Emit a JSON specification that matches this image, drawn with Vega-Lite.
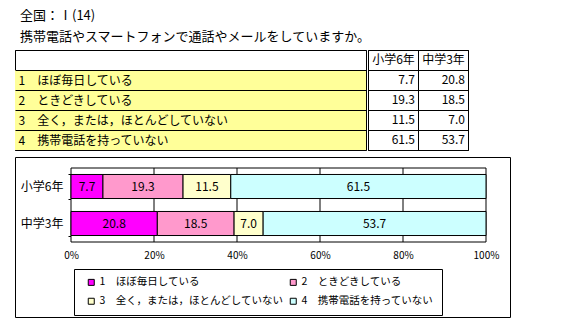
{
  "$schema": "https://vega.github.io/schema/vega-lite/v6.json",
  "padding": {"left": 14, "top": 9, "right": 0, "bottom": 0},
  "background": "white",
  "title": {
    "text": "全国：Ⅰ(14)",
    "subtitle": "携帯電話やスマートフォンで通話やメールをしていますか。",
    "anchor": "start",
    "frame": "group",
    "dx": 5,
    "fontSize": 13,
    "fontWeight": "normal",
    "subtitleFontSize": 13,
    "subtitlePadding": 8,
    "offset": 0,
    "color": "black",
    "subtitleColor": "black"
  },
  "datasets": {
    "survey": [
      {"item": "1　ほぼ毎日している", "grade": "小学6年", "value": 7.7},
      {"item": "2　ときどきしている", "grade": "小学6年", "value": 19.3},
      {"item": "3　全く，または，ほとんどしていない", "grade": "小学6年", "value": 11.5},
      {"item": "4　携帯電話を持っていない", "grade": "小学6年", "value": 61.5},
      {"item": "1　ほぼ毎日している", "grade": "中学3年", "value": 20.8},
      {"item": "2　ときどきしている", "grade": "中学3年", "value": 18.5},
      {"item": "3　全く，または，ほとんどしていない", "grade": "中学3年", "value": 7.0},
      {"item": "4　携帯電話を持っていない", "grade": "中学3年", "value": 53.7}
    ],
    "gridlines": [{"p": 20}, {"p": 40}, {"p": 60}, {"p": 80}]
  },
  "spacing": -1,
  "vconcat": [
    {
      "spacing": 0,
      "hconcat": [
        {
          "width": 351,
          "height": 100,
          "data": {"name": "survey"},
          "transform": [{"filter": "datum.grade === '小学6年'"}],
          "mark": {"type": "rect", "fill": "#FFFF99"},
          "encoding": {
            "y": {
              "field": "item",
              "type": "nominal",
              "scale": {
                "domain": [" ", "1　ほぼ毎日している", "2　ときどきしている", "3　全く，または，ほとんどしていない", "4　携帯電話を持っていない"],
                "paddingInner": 0,
                "paddingOuter": 0
              },
              "axis": {"orient": "right", "offset": -351, "labelAlign": "left", "labelPadding": 3, "labelFontSize": 12, "grid": true, "tickBand": "extent", "zindex": 1, "labelLimit": 0}
            }
          }
        },
        {
          "width": 100,
          "height": 100,
          "data": {"name": "survey"},
          "mark": {"type": "text", "align": "right", "dx": -3, "fontSize": 12, "color": "black"},
          "encoding": {
            "x": {
              "field": "grade",
              "type": "nominal",
              "bandPosition": 1,
              "scale": {"domain": ["小学6年", "中学3年"], "paddingInner": 0, "paddingOuter": 0},
              "axis": {"orient": "top", "offset": -20, "labelAngle": 0, "labelPadding": 4, "labelFontSize": 12, "grid": true, "tickBand": "extent", "zindex": 1}
            },
            "y": {
              "field": "item",
              "type": "nominal",
              "scale": {
                "domain": [" ", "1　ほぼ毎日している", "2　ときどきしている", "3　全く，または，ほとんどしていない", "4　携帯電話を持っていない"],
                "paddingInner": 0,
                "paddingOuter": 0
              },
              "axis": {"labels": false, "grid": true, "tickBand": "extent", "zindex": 1}
            },
            "text": {"field": "value", "type": "quantitative", "format": ".1f"}
          }
        }
      ]
    },
    {
      "width": 495,
      "height": 160,
      "resolve": {"scale": {"y": "independent"}},
      "layer": [
        {
          "layer": [
            {
              "data": {"values": [{}]},
              "mark": {"type": "rect", "fill": "white", "stroke": "black", "strokeWidth": 1},
              "encoding": {
                "x": {
                  "datum": 0,
                  "type": "quantitative",
                  "scale": {"domain": [0, 100], "range": [56, 471], "nice": false, "zero": false},
                  "axis": {"values": [0, 20, 40, 60, 80, 100], "labelExpr": "datum.value + '%'", "labelFlush": false, "orient": "bottom", "offset": -75, "labelPadding": 8, "labelFontSize": 10, "grid": false}
                },
                "x2": {"datum": 100},
                "y": {"datum": 0, "type": "quantitative", "scale": {"domain": [0, 1], "range": [85, 11]}, "axis": null},
                "y2": {"datum": 1}
              }
            },
            {
              "data": {"name": "gridlines"},
              "mark": {"type": "rule", "color": "black", "strokeWidth": 1},
              "encoding": {
                "x": {"field": "p", "type": "quantitative"},
                "y": {"datum": 0, "type": "quantitative"},
                "y2": {"datum": 1}
              }
            }
          ]
        },
        {
          "data": {"name": "survey"},
          "layer": [
            {
              "mark": {"type": "bar", "stroke": "black", "strokeWidth": 1},
              "encoding": {
                "x": {"field": "value", "type": "quantitative", "stack": "zero"},
                "y": {
                  "field": "grade",
                  "type": "nominal",
                  "sort": ["小学6年", "中学3年"],
                  "scale": {"range": [11, 85], "paddingInner": 0.35, "paddingOuter": 0.175},
                  "axis": {"orient": "left", "offset": -56, "labelPadding": 5, "labelFontSize": 12, "ticks": true, "tickSize": 3, "tickBand": "extent", "tickColor": "black", "domain": false, "grid": false}
                },
                "color": {
                  "field": "item",
                  "type": "nominal",
                  "scale": {
                    "domain": ["1　ほぼ毎日している", "2　ときどきしている", "3　全く，または，ほとんどしていない", "4　携帯電話を持っていない"],
                    "range": ["#FF00FF", "#FF99CC", "#FFFFCC", "#CCFFFF"]
                  },
                  "legend": {
                    "orient": "none", "legendX": 59, "legendY": 219, "columns": 2, "direction": "horizontal", "title": null,
                    "strokeColor": "black", "fillColor": "white", "padding": 8,
                    "symbolType": "square", "symbolSize": 36, "symbolStrokeColor": "black", "symbolStrokeWidth": 1,
                    "symbolOffset": 4, "labelOffset": 3, "labelFontSize": 10.5, "labelColor": "black",
                    "labelExpr": "(datum.label[0] == '2' || datum.label[0] == '4') ? datum.label + '　　　　' : datum.label",
                    "columnPadding": 0, "rowPadding": 8, "labelLimit": 0
                  }
                },
                "order": {"field": "item"}
              }
            },
            {
              "mark": {"type": "text", "fontSize": 12, "color": "black"},
              "encoding": {
                "x": {"field": "value", "type": "quantitative", "stack": "zero", "bandPosition": 0.5},
                "y": {"field": "grade", "type": "nominal", "sort": ["小学6年", "中学3年"]},
                "detail": {"field": "item"},
                "order": {"field": "item"},
                "text": {"field": "value", "type": "quantitative", "format": ".1f"}
              }
            }
          ]
        }
      ]
    }
  ],
  "config": {
    "font": "Noto Sans CJK JP",
    "view": {"stroke": "black", "strokeWidth": 1},
    "axis": {"title": null, "domain": false, "ticks": false, "tickSize": 0, "labelColor": "black", "gridColor": "black", "gridOpacity": 1, "gridWidth": 1, "labelFontSize": 12, "labelFont": "Noto Sans CJK JP"}
  }
}
